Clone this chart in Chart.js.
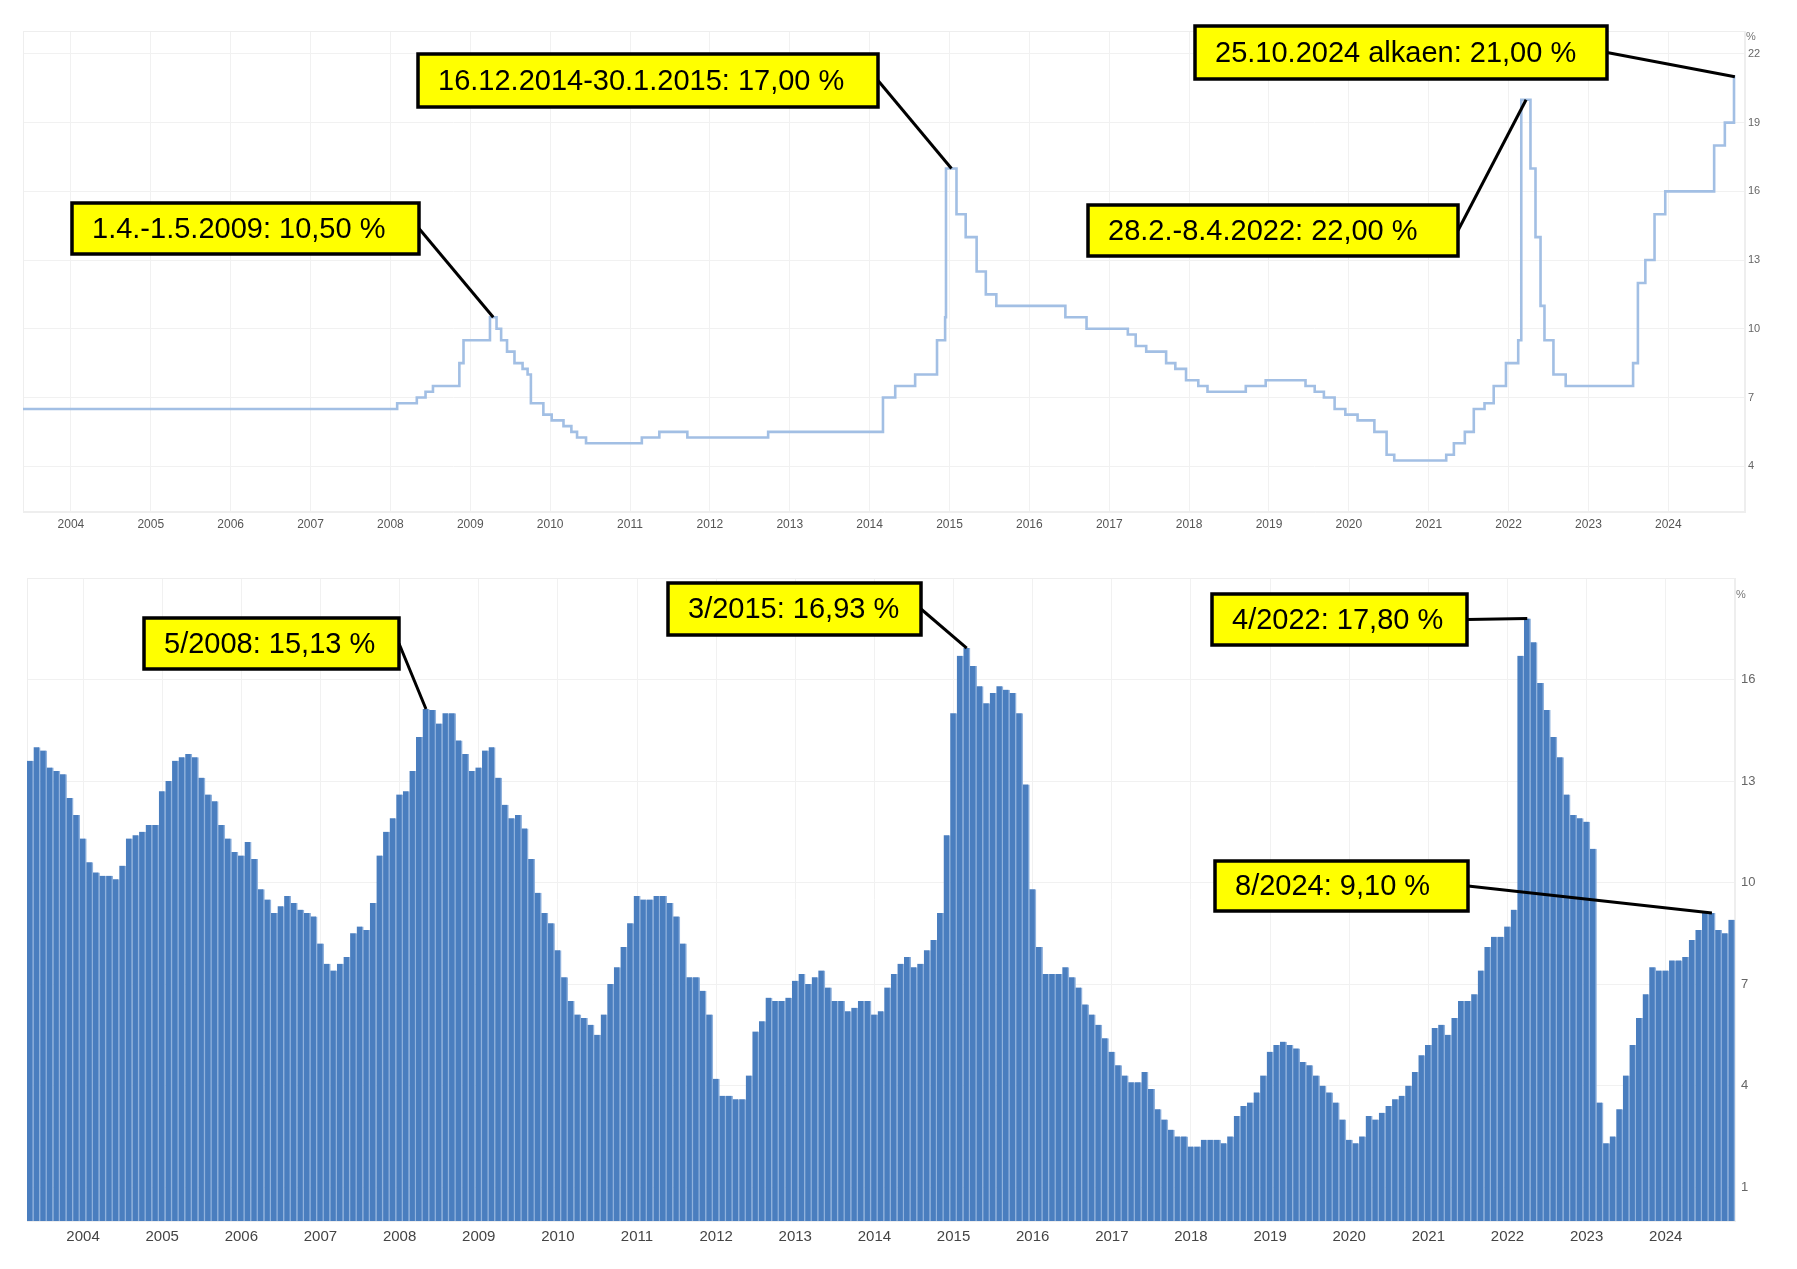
<!DOCTYPE html>
<html>
<head>
<meta charset="utf-8">
<title>Ohjauskorko ja inflaatio</title>
<script src="https://cdn.jsdelivr.net/npm/chart.js@4.4.1/dist/chart.umd.min.js"></script>
<style>
  html, body { margin: 0; padding: 0; background: #fff; }
  #wrap { position: relative; width: 1797px; height: 1269px; overflow: hidden; }
  canvas { position: absolute; left: 0; }
  #rateChart { top: 0; }
  #cpiChart { top: 545px; }
</style>
</head>
<body>
<div id="wrap">
  <canvas id="rateChart" width="1797" height="545"></canvas>
  <canvas id="cpiChart" width="1797" height="724"></canvas>
</div>
<script>
const FONT = '"Liberation Sans", Arial, sans-serif';

// Policy rate: date of change -> new level (%)
const rateDates = [
  "2003-05-01", "2008-02-01", "2008-05-01", "2008-06-10", "2008-07-14", "2008-11-12", "2008-12-01",
  "2009-04-01", "2009-05-01", "2009-05-22", "2009-06-18", "2009-07-22", "2009-08-28", "2009-09-20",
  "2009-10-05", "2009-12-01", "2010-01-08", "2010-03-03", "2010-04-08", "2010-05-04", "2010-06-14",
  "2011-02-24", "2011-05-15", "2011-09-20", "2012-09-24",
  "2014-03-03", "2014-04-28", "2014-07-28", "2014-11-05", "2014-12-12", "2014-12-16",
  "2015-02-02", "2015-03-16", "2015-05-05", "2015-06-16", "2015-08-03",
  "2016-06-14", "2016-09-19",
  "2017-03-27", "2017-05-02", "2017-06-19", "2017-09-18", "2017-10-30", "2017-12-18",
  "2018-02-12", "2018-03-26", "2018-09-17", "2018-12-17",
  "2019-06-17", "2019-07-29", "2019-09-09", "2019-10-28", "2019-12-16",
  "2020-02-10", "2020-04-27", "2020-06-22", "2020-07-27",
  "2021-03-22", "2021-04-26", "2021-06-15", "2021-07-26", "2021-09-13", "2021-10-25", "2021-12-20",
  "2022-02-14", "2022-02-28", "2022-04-11", "2022-05-04", "2022-05-27", "2022-06-14", "2022-07-25", "2022-09-19",
  "2023-07-24", "2023-08-15", "2023-09-18", "2023-10-30", "2023-12-18",
  "2024-07-29", "2024-09-16", "2024-10-28", "2024-11-03"
];
const rateValues = [
  6.5, 6.75, 7.0, 7.25, 7.5, 8.5, 9.5,
  10.5, 10.0, 9.5, 9.0, 8.5, 8.25, 8.0,
  6.75, 6.25, 6.0, 5.75, 5.5, 5.25, 5.0,
  5.25, 5.5, 5.25, 5.5,
  7.0, 7.5, 8.0, 9.5, 10.5, 17.0,
  15.0, 14.0, 12.5, 11.5, 11.0,
  10.5, 10.0,
  9.75, 9.25, 9.0, 8.5, 8.25, 7.75,
  7.5, 7.25, 7.5, 7.75,
  7.5, 7.25, 7.0, 6.5, 6.25,
  6.0, 5.5, 4.5, 4.25,
  4.5, 5.0, 5.5, 6.5, 6.75, 7.5, 8.5,
  9.5, 20.0, 17.0, 14.0, 11.0, 9.5, 8.0, 7.5,
  8.5, 12.0, 13.0, 15.0, 16.0,
  18.0, 19.0, 21.0, 21.0
];
const rateTicks = [4, 7, 10, 13, 16, 19, 22];
const yearTicks = [2004, 2005, 2006, 2007, 2008, 2009, 2010, 2011, 2012, 2013, 2014,
  2015, 2016, 2017, 2018, 2019, 2020, 2021, 2022, 2023, 2024];

// Inflation, year-on-year %, monthly from 5/2003 to 11/2024
const cpiStartYear = 2003;
const cpiStartMonth = 5;
const cpiValues = [
  13.6, 14.0, 13.9, 13.4, 13.3, 13.2, 12.5, 12.0,
  11.3, 10.6, 10.3, 10.2, 10.2, 10.1, 10.5, 11.3, 11.4, 11.5, 11.7, 11.7,
  12.7, 13.0, 13.6, 13.7, 13.8, 13.7, 13.1, 12.6, 12.4, 11.7, 11.3, 10.9,
  10.8, 11.2, 10.7, 9.8, 9.5, 9.1, 9.3, 9.6, 9.4, 9.2, 9.1, 9.0,
  8.2, 7.6, 7.4, 7.6, 7.8, 8.5, 8.7, 8.6, 9.4, 10.8, 11.5, 11.9,
  12.6, 12.7, 13.3, 14.3, 15.13, 15.1, 14.7, 15.0, 15.0, 14.2, 13.8, 13.3,
  13.4, 13.9, 14.0, 13.1, 12.3, 11.9, 12.0, 11.6, 10.7, 9.7, 9.1, 8.8,
  8.0, 7.2, 6.5, 6.1, 6.0, 5.8, 5.5, 6.1, 7.0, 7.5, 8.1, 8.8,
  9.6, 9.5, 9.5, 9.6, 9.6, 9.4, 9.0, 8.2, 7.2, 7.2, 6.8, 6.1,
  4.2, 3.7, 3.7, 3.6, 3.6, 4.3, 5.6, 5.9, 6.6, 6.5, 6.5, 6.6,
  7.1, 7.3, 7.0, 7.2, 7.4, 6.9, 6.5, 6.5, 6.2, 6.3, 6.5, 6.5,
  6.1, 6.2, 6.9, 7.3, 7.6, 7.8, 7.5, 7.6, 8.0, 8.3, 9.1, 11.4,
  15.0, 16.7, 16.93, 16.4, 15.8, 15.3, 15.6, 15.8, 15.7, 15.6, 15.0, 12.9,
  9.8, 8.1, 7.3, 7.3, 7.3, 7.5, 7.2, 6.9, 6.4, 6.1, 5.8, 5.4,
  5.0, 4.6, 4.3, 4.1, 4.1, 4.4, 3.9, 3.3, 3.0, 2.7, 2.5, 2.5,
  2.2, 2.2, 2.4, 2.4, 2.4, 2.3, 2.5, 3.1, 3.4, 3.5, 3.8, 4.3,
  5.0, 5.2, 5.3, 5.2, 5.1, 4.7, 4.6, 4.3, 4.0, 3.8, 3.5, 3.0,
  2.4, 2.3, 2.5, 3.1, 3.0, 3.2, 3.4, 3.6, 3.7, 4.0, 4.4, 4.9,
  5.2, 5.7, 5.8, 5.5, 6.0, 6.5, 6.5, 6.7, 7.4, 8.1, 8.4, 8.4,
  8.7, 9.2, 16.7, 17.8, 17.1, 15.9, 15.1, 14.3, 13.7, 12.6, 12.0, 11.9,
  11.8, 11.0, 3.5, 2.3, 2.5, 3.3, 4.3, 5.2, 6.0, 6.7, 7.5, 7.4,
  7.4, 7.7, 7.7, 7.8, 8.3, 8.6, 9.1, 9.1, 8.6, 8.5, 8.9
];
const cpiTicks = [1, 4, 7, 10, 13, 16];

// callout texts and the point each one points at
const rateNotes = [
  { text: "1.4.-1.5.2009: 10,50 %", date: "2009-04-16" },
  { text: "16.12.2014-30.1.2015: 17,00 %", date: "2015-01-10" },
  { text: "25.10.2024 alkaen: 21,00 %", date: "2024-11-01" },
  { text: "28.2.-8.4.2022: 22,00 %", date: "2022-03-22" }
];
const cpiNotes = [
  { text: "5/2008: 15,13 %", month: "5/2008" },
  { text: "3/2015: 16,93 %", month: "3/2015" },
  { text: "4/2022: 17,80 %", month: "4/2022" },
  { text: "8/2024: 9,10 %", month: "8/2024" }
];

// box placement (canvas px): x, y, w, h
const rateBoxes = [[72, 203, 347, 51], [418, 54, 460, 53], [1195, 26, 412, 53], [1088, 205, 370, 51]];
const cpiBoxes = [[144, 73, 255, 51], [668, 38, 253, 52], [1212, 49, 255, 51], [1215, 316, 253, 50]];

function toYear(s) {
  const d = new Date(s + "T00:00:00Z");
  const y = d.getUTCFullYear();
  const a = Date.UTC(y, 0, 1), b = Date.UTC(y + 1, 0, 1);
  return y + (d.getTime() - a) / (b - a);
}

function rateAt(s) {
  const t = toYear(s);
  let v = rateValues[0];
  rateDates.forEach((d, i) => { if (toYear(d) <= t) v = rateValues[i]; });
  return v;
}

const cpiLabels = cpiValues.map((_, i) => {
  const m = (cpiStartMonth - 1 + i) % 12 + 1;
  const y = cpiStartYear + Math.floor((cpiStartMonth - 1 + i) / 12);
  return m + "/" + y;
});

function calloutPlugin(id, items, boxes) {
  return {
    id: id,
    afterDraw(chart) {
      const ctx = chart.ctx;
      items.forEach((it, i) => {
        const [bx, by, bw, bh] = boxes[i];
        const px = chart.scales.x.getPixelForValue(it.x);
        const py = chart.scales.y.getPixelForValue(it.y);
        ctx.save();
        ctx.strokeStyle = "#000";
        ctx.lineWidth = 3;
        ctx.beginPath();
        ctx.moveTo(bx + bw, by + bh / 2);
        ctx.lineTo(px, py);
        ctx.stroke();
        ctx.fillStyle = "#ffff00";
        ctx.fillRect(bx, by, bw, bh);
        ctx.lineWidth = 3.5;
        ctx.strokeRect(bx, by, bw, bh);
        ctx.fillStyle = "#000";
        ctx.font = "29px " + FONT;
        ctx.textBaseline = "middle";
        ctx.fillText(it.text, bx + 20, by + bh / 2 + 1);
        ctx.restore();
      });
    }
  };
}

function unitPlugin(at) {
  return {
    id: "unit",
    afterDraw(chart) {
      const ctx = chart.ctx;
      const y = chart.scales.y.getPixelForValue(at);
      ctx.save();
      ctx.fillStyle = "#777";
      ctx.font = "11px " + FONT;
      ctx.textBaseline = "middle";
      ctx.fillText("%", chart.chartArea.right + 1, y);
      ctx.restore();
    }
  };
}

const framePlugin = {
  id: "frame",
  beforeDatasetsDraw(chart) {
    const a = chart.chartArea, ctx = chart.ctx;
    ctx.save();
    ctx.strokeStyle = "#eeeeee";
    ctx.lineWidth = 1;
    ctx.strokeRect(a.left + 0.5, a.top + 0.5, a.right - a.left - 1, a.bottom - a.top - 1);
    ctx.restore();
  }
};

// --- top: policy rate ---
const rateItems = rateNotes.map(n => ({ text: n.text, x: toYear(n.date), y: rateAt(n.date) }));

new Chart(document.getElementById("rateChart"), {
  type: "line",
  data: {
    datasets: [{
      data: rateDates.map((d, i) => ({ x: toYear(d), y: rateValues[i] })),
      stepped: true,
      borderColor: "#a2bfe4",
      borderWidth: 2.6,
      pointRadius: 0,
      fill: false
    }]
  },
  options: {
    responsive: false,
    devicePixelRatio: 1,
    animation: false,
    layout: { padding: { left: 23, top: 31, right: 0, bottom: 0 } },
    plugins: { legend: { display: false }, tooltip: { enabled: false } },
    scales: {
      x: {
        type: "linear",
        min: 2003.40,
        max: 2024.96,
        afterBuildTicks: (s) => { s.ticks = yearTicks.map(v => ({ value: v })); },
        afterFit: (s) => { s.height = 33; },
        grid: { color: "#f1f1f1", drawTicks: false },
        border: { color: "#eeeeee" },
        ticks: { color: "#555", font: { family: FONT, size: 12 }, padding: 5, maxRotation: 0, callback: v => String(v) }
      },
      y: {
        position: "right",
        min: 2,
        max: 23,
        afterBuildTicks: (s) => { s.ticks = rateTicks.map(v => ({ value: v })); },
        afterFit: (s) => { s.width = 52; },
        grid: { color: "#f1f1f1", drawTicks: false },
        border: { color: "#eeeeee" },
        ticks: { color: "#666", font: { family: FONT, size: 11 }, padding: 3 }
      }
    }
  },
  plugins: [framePlugin, unitPlugin(22.75), calloutPlugin("rateNotes", rateItems, rateBoxes)]
});

// --- bottom: inflation ---
const cpiItems = cpiNotes.map(n => {
  const i = cpiLabels.indexOf(n.month);
  return { text: n.text, x: i, y: cpiValues[i] };
});

new Chart(document.getElementById("cpiChart"), {
  type: "bar",
  data: {
    labels: cpiLabels,
    datasets: [{
      data: cpiValues,
      backgroundColor: "#4a7ebf",
      borderColor: "#90b2dd",
      borderWidth: { top: 0, right: 1.5, bottom: 0, left: 0 },
      borderSkipped: false,
      barPercentage: 1,
      categoryPercentage: 1
    }]
  },
  options: {
    responsive: false,
    devicePixelRatio: 1,
    animation: false,
    layout: { padding: { left: 27, top: 33, right: 0, bottom: 0 } },
    plugins: { legend: { display: false }, tooltip: { enabled: false } },
    scales: {
      x: {
        afterBuildTicks: (s) => { s.ticks = s.ticks.filter(t => cpiLabels[t.value].startsWith("1/")); },
        afterFit: (s) => { s.height = 48; },
        grid: { color: "#f1f1f1", drawTicks: false, offset: false },
        border: { color: "#eeeeee" },
        ticks: {
          autoSkip: false,
          maxRotation: 0,
          color: "#444",
          font: { family: FONT, size: 15 },
          padding: 7,
          callback: (v) => cpiLabels[v].split("/")[1]
        }
      },
      y: {
        position: "right",
        min: 0,
        max: 19,
        afterBuildTicks: (s) => { s.ticks = cpiTicks.map(v => ({ value: v })); },
        afterFit: (s) => { s.width = 62; },
        grid: { color: "#f1f1f1", drawTicks: false },
        border: { color: "#eeeeee" },
        ticks: { color: "#666", font: { family: FONT, size: 13 }, padding: 6 }
      }
    }
  },
  plugins: [framePlugin, unitPlugin(18.5), calloutPlugin("cpiNotes", cpiItems, cpiBoxes)]
});
</script>
</body>
</html>
